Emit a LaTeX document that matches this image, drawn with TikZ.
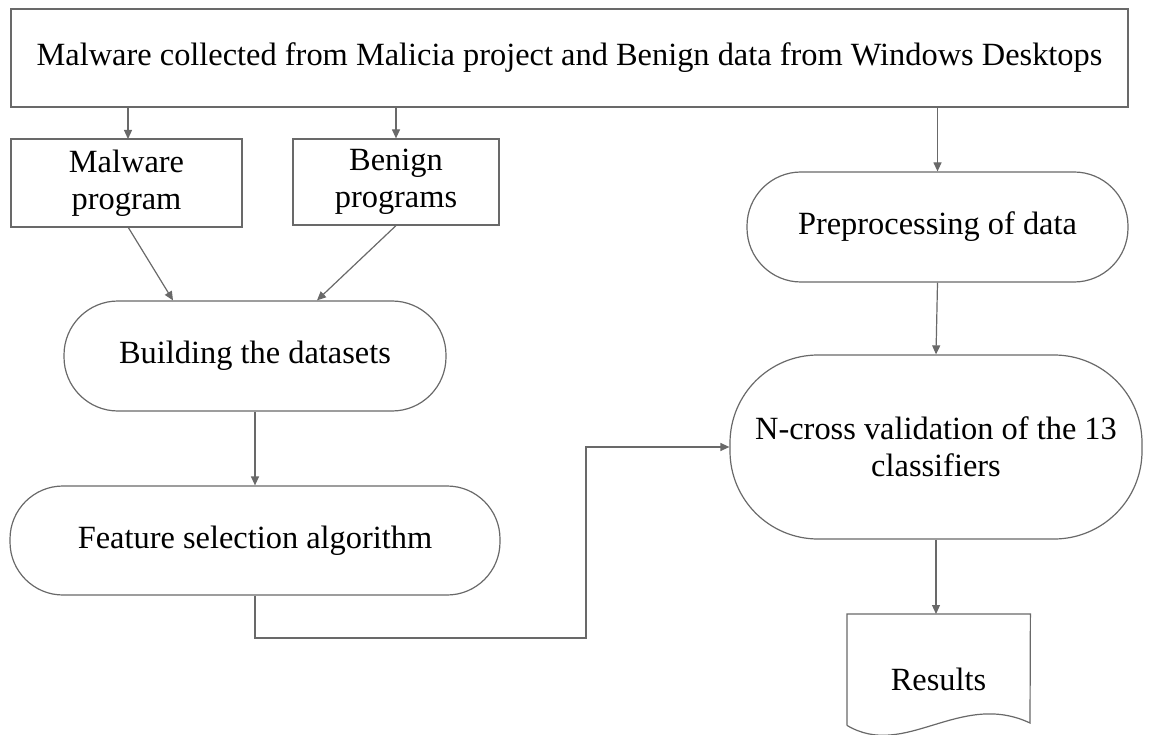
\documentclass[tikz,border=0pt]{standalone}
\usepackage{fontspec}
\setmainfont{Liberation Serif}
\usetikzlibrary{arrows.meta,calc}
\definecolor{linegray}{RGB}{105,105,105}
\begin{document}
\begin{tikzpicture}[x=1pt,y=-1pt,
  every node/.style={font=\fontsize{32.4}{37}\selectfont, align=center, inner sep=0pt},
  plainbox/.style={draw=linegray, line width=1.2pt},
  terminal/.style={draw=linegray, line width=1.2pt, rounded corners=#1},
  conn/.style={draw=linegray, line width=1.2pt, -{Triangle[length=9pt,width=8pt]}}]
\clip (0,0) rectangle (1151,735);

% source box
\node[plainbox, minimum width=1117pt, minimum height=98pt] (src) at (569.5,58)
  {Malware collected from Malicia project and Benign data from Windows Desktops};

% program sets
\node[plainbox, minimum width=231pt, minimum height=88pt] (mal) at (126.5,183) {Malware\\program};
\node[plainbox, minimum width=206pt, minimum height=86pt] (ben) at (396,182) {Benign\\programs};

% process steps
\node[terminal=54pt, minimum width=382pt, minimum height=110pt] (build) at (255,356) {Building the datasets};
\node[terminal=53pt, minimum width=490pt, minimum height=109pt] (feat) at (255,540.5) {Feature selection algorithm};
\node[terminal=54pt, minimum width=381pt, minimum height=110pt] (prep) at (937.5,227) {Preprocessing of data};
\node[terminal=88pt, minimum width=412pt, minimum height=184pt] (ncross) at (936,447) {N-cross validation of the 13\\classifiers};

% results document
\node[minimum width=183pt, minimum height=111pt, anchor=north west] (res) at (847,614) {};
\draw[plainbox] (res.south west) -- (res.north west) -- (res.north east) -- (1030,723)
  .. controls (960,690) and (905,760) .. (res.south west);
\node (restext) at (938.5,679) {Results};

% connectors
\draw[conn] (src.south -| 128,0) -- (128,139);
\draw[conn] (src.south -| 396,0) -- (ben.north);
\draw[conn] (src.south -| prep.north) -- (prep.north);
\draw[conn] (128,227) -- ($(build.north)+(-82,0)$);
\draw[conn] (ben.south) -- ($(build.north)+(62,0)$);
\draw[conn] (build.south) -- (feat.north);
\coordinate (k1) at (255,638);
\coordinate (k2) at (586,638);
\coordinate (k3) at (586,447);
\draw[conn] (feat.south) -- (k1) -- (k2) -- (k3) -- (ncross.west);
\draw[conn] (prep.south) -- (ncross.north);
\draw[conn] (ncross.south) -- (ncross.south |- res.north);
\end{tikzpicture}
\end{document}
